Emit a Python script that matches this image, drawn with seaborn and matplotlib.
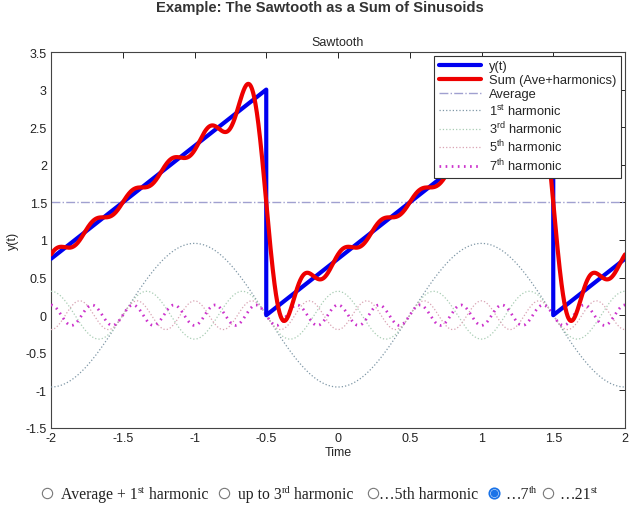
import numpy as np
import pandas as pd
import matplotlib
matplotlib.use('Agg')
import matplotlib.pyplot as plt
import seaborn as sns

# ---- data ----
# sawtooth corners (t, y)
saw_t = [-2.0, -0.5, -0.5, 1.5, 1.5, 2.0]
saw_y = [0.75, 3.0, 0.0, 3.0, 0.0, 0.75]

average = 1.5

# harmonics n = 1..7, amplitude of each sine term (period 2)
harm_n = [1, 2, 3, 4, 5, 6, 7]
harm_amp = [0.955, 0.477, 0.318, 0.239, 0.191, 0.159, 0.136]

# harmonics that are drawn on their own
shown_n = [1, 3, 5, 7]
shown_labels = ['1$^{\\mathrm{st}}$ harmonic', '3$^{\\mathrm{rd}}$ harmonic',
                '5$^{\\mathrm{th}}$ harmonic', '7$^{\\mathrm{th}}$ harmonic']
shown_colors = ['#7f97a6', '#a9cdb4', '#d9a3b3', '#cc33cc']

x_ticks = [-2, -1.5, -1, -0.5, 0, 0.5, 1, 1.5, 2]
x_ticklabels = ['-2', '-1.5', '-1', '-0.5', '0', '0.5', '1', '1.5', '2']
y_ticks = [-1.5, -1, -0.5, 0, 0.5, 1, 1.5, 2, 2.5, 3, 3.5]
y_ticklabels = ['-1.5', '-1', '-0.5', '0', '0.5', '1', '1.5', '2', '2.5', '3', '3.5']

# radio button row under the chart
radio_x = [47, 224, 373, 494, 548]
radio_text_x = [61, 238, 379, 505, 559]
radio_text = [
    [('Average + 1', False), ('st', True), (' harmonic', False)],
    [('up to 3', False), ('rd', True), (' harmonic', False)],
    [('\u20265th harmonic', False)],
    [('\u20267', False), ('th', True)],
    [('\u202621', False), ('st', True)],
]
radio_selected = 3

# ---- style ----
sns.set_style('white')
plt.rcParams['font.family'] = ['Liberation Sans', 'DejaVu Sans']
plt.rcParams['mathtext.fontset'] = 'custom'
plt.rcParams['mathtext.rm'] = 'Liberation Sans'
plt.rcParams['axes.unicode_minus'] = False

W, H = 640, 510
fig = plt.figure(figsize=(W / 100, H / 100), dpi=100)
ax = fig.add_axes([51 / W, 1 - 429 / H, (625 - 51) / W, (429 - 53) / H])

t = np.linspace(-2, 2, 1601)
harm = {}
for n, a in zip(harm_n, harm_amp):
    harm[n] = -a * np.sin(n * np.pi * (t + 0.5))
total = average + sum(harm.values())

sns.lineplot(x=saw_t, y=saw_y, ax=ax, color='#0000f0', linewidth=3,
             estimator=None, sort=False, label='y(t)', zorder=5)
sns.lineplot(x=t, y=total, ax=ax, color='#ee0000', linewidth=3,
             estimator=None, sort=False, label='Sum (Ave+harmonics)', zorder=6)
sns.lineplot(x=[-2, 2], y=[average, average], ax=ax, color='#a0a0d0',
             linewidth=1, linestyle='-.', estimator=None, sort=False,
             label='Average', zorder=2)
for n, lab, c in zip(shown_n, shown_labels, shown_colors):
    lw = 2 if n == 7 else 0.9
    sns.lineplot(x=t, y=harm[n], ax=ax, color=c, linewidth=lw,
                 linestyle=(0, (0.6, 1.6)) if n == 7 else ':',
                 estimator=None, sort=False, label=lab, zorder=3)

ax.set_xlim(-2, 2)
ax.set_ylim(-1.5, 3.5)
ax.set_xticks(x_ticks)
ax.set_xticklabels(x_ticklabels)
ax.set_yticks(y_ticks)
ax.set_yticklabels(y_ticklabels)
ax.tick_params(direction='in', top=True, right=True, length=4, width=0.7,
               labelsize=9, colors='#222222', pad=3)
for sp in ax.spines.values():
    sp.set_color('#444444')
    sp.set_linewidth(0.8)
ax.set_xlabel('Time', fontsize=9, labelpad=1)
ax.set_ylabel('y(t)', fontsize=9, labelpad=5)
ax.set_title('Sawtooth', fontsize=9, pad=5)

leg = ax.legend(loc='upper right', fontsize=9.3, frameon=True, fancybox=False,
                framealpha=1, edgecolor='#333333', handlelength=3.3,
                borderaxespad=0.3, labelspacing=0.15, borderpad=0.35,
                handletextpad=0.6)
leg.get_frame().set_linewidth(0.8)
leg.set_zorder(20)

fig.text(0.5, 1 - 8 / H, 'Example: The Sawtooth as a Sum of Sinusoids',
         ha='center', va='center', fontsize=10.6, fontweight='bold', color='#333333')

# ---- radio buttons row ----
bax = fig.add_axes([0, 0, 1, 1])
bax.set_xlim(0, W)
bax.set_ylim(H, 0)
bax.axis('off')
row_y = 494
for i, x in enumerate(radio_x):
    if i == radio_selected:
        bax.scatter([x], [row_y], s=55, facecolor='white', edgecolor='#1a73e8',
                    linewidth=1.3, zorder=3)
        bax.scatter([x], [row_y], s=20, color='#1a73e8', zorder=4)
    else:
        bax.scatter([x], [row_y], s=55, facecolor='white', edgecolor='#777777',
                    linewidth=0.8, zorder=3)

fig.canvas.draw()
rend = fig.canvas.get_renderer()
for x0, pieces in zip(radio_text_x, radio_text):
    cx = x0
    for s, sup in pieces:
        txt = bax.text(cx, 499 - (6 if sup else 0), s,
                       fontsize=7.5 if sup else 11.3, va='baseline', ha='left',
                       family=['Liberation Serif', 'DejaVu Serif'], color='#222222')
        cx += txt.get_window_extent(rend).width

fig.savefig('out.png', dpi=100)
